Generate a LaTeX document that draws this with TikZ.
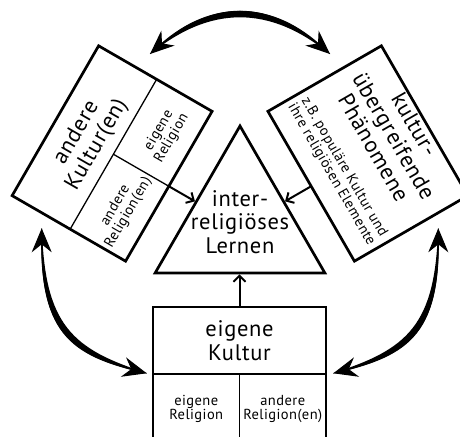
\documentclass[tikz,border=0pt]{standalone}
\usepackage{fontspec}
\setmainfont{PT Sans}[LetterSpace=3]
\usetikzlibrary{arrows.meta,shapes.geometric,calc}
\tikzset{
  box/.style={draw, line width=2.7pt, minimum width=173pt, minimum height=131pt, inner sep=0pt, outer sep=0pt},
  divider/.style={line width=1.3pt},
  title/.style={align=center, font=\fontsize{22.5}{23.5}\selectfont, inner sep=0pt},
  small/.style={align=center, font=\fontsize{14.5}{14.8}\selectfont, inner sep=0pt},
  feed/.style={line width=2pt, -{Straight Barb[length=6pt,width=12pt]}},
  swing/.style={line width=1pt, {Stealth[length=24pt,width=20pt,inset=8pt]}-{Stealth[length=24pt,width=20pt,inset=8pt]}},
}
\newcommand\taperfill[4]{%
  \fill ($(#1)!0.3pt!90:(#2)$) .. controls ($(#2)!4.3pt!90:(#3)$) and ($(#3)!4.3pt!-90:(#2)$) .. ($(#4)!0.3pt!-90:(#3)$)
     -- ($(#4)!0.3pt!90:(#3)$) .. controls ($(#3)!4.3pt!90:(#2)$) and ($(#2)!4.3pt!-90:(#3)$) .. ($(#1)!0.3pt!-90:(#2)$) -- cycle;}
\begin{document}
\begin{tikzpicture}[x=1pt,y=1pt]
\useasboundingbox (0,0) rectangle (460,436);
\clip (0,0) rectangle (460,436);

% triangle
\node[regular polygon, regular polygon sides=3, draw, line width=2.7pt, minimum size=196pt, inner sep=0pt] (tri) at (240,212) {};
\node[title] (trit) at (240,214) {inter-\\religiöses\\Lernen};

% bottom box
\begin{scope}[shift={(239.5,63.5)}]
  \node[box] (own) at (0,0) {};
  \draw[divider] (-86.5,-1.5) -- (86.5,-1.5);
  \draw[divider] (0,-1.5) -- (0,-65.5);
  \node[title] (ownt) at (0,32) {eigene\\Kultur};
  \node[small] (ownl) at (-43.25,-36.5) {eigene\\Religion};
  \node[small] (ownr) at (43.25,-36.5) {andere\\Religion(en)};
\end{scope}

% left box
\begin{scope}[shift={(112.1,282.5)}, rotate=60, transform shape]
  \node[box] (oth) at (0,0) {};
  \draw[divider] (-86.5,-1.5) -- (86.5,-1.5);
  \draw[divider] (0,-1.5) -- (0,-65.5);
  \node[title] (otht) at (0,29) {andere\\Kultur(en)};
  \node[small] (othl) at (-43.25,-36.5) {andere\\Religion(en)};
  \node[small] (othr) at (43.25,-36.5) {eigene\\Religion};
\end{scope}

% right box
\begin{scope}[shift={(367.9,282.5)}, rotate=-60, transform shape]
  \node[box] (trans) at (0,0) {};
  \node[title] (transt) at (-2,31.5) {kultur-\\übergreifende\\Phänomene};
  \node[small] (transs) at (0,-35) {z.B. populäre Kultur und\\ihre religiösen Elemente};
\end{scope}

% feeding arrows
\draw[feed] (own.north) -- ($(own.north)!(tri.side 2)!(own.south)$);
\draw[feed] (oth.south) -- ($(oth.south)!(tri.side 1)!(oth.north)$);
\draw[feed] (trans.south) -- ($(trans.south)!(tri.side 3)!(trans.north)$);

% curved double arrows
\coordinate (ta) at (150,382);
\coordinate (ta1) at (210.2,435.3);
\coordinate (ta2) at (269.8,435.3);
\coordinate (tb) at (330,382);
\coordinate (la) at (41.7,207.7);
\coordinate (la1) at (41.7,107.7);
\coordinate (la2) at (69.4,83.4);
\coordinate (lb) at (146.7,62.7);
\coordinate (ra) at (438.3,207.7);
\coordinate (ra1) at (438.3,107.7);
\coordinate (ra2) at (410.6,83.4);
\coordinate (rb) at (333.3,62.7);

\draw[swing] (ta) .. controls (ta1) and (ta2) .. (tb);
\taperfill{ta}{ta1}{ta2}{tb}
\draw[swing] (la) .. controls (la1) and (la2) .. (lb);
\taperfill{la}{la1}{la2}{lb}
\draw[swing] (ra) .. controls (ra1) and (ra2) .. (rb);
\taperfill{ra}{ra1}{ra2}{rb}
\end{tikzpicture}
\end{document}
